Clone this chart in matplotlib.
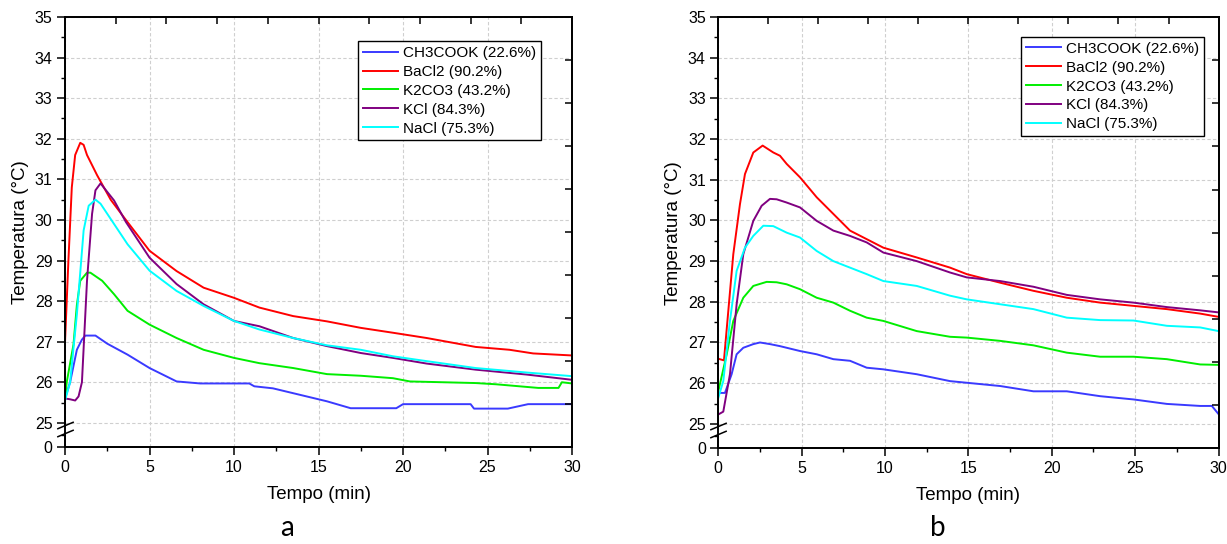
import numpy as np
import matplotlib
matplotlib.use('Agg')
import matplotlib.pyplot as plt
from matplotlib.path import Path

plt.rcParams['font.family'] = ['Liberation Sans', 'DejaVu Sans']

# legend labels and line colours
labels = ['CH3COOK (22.6%)', 'BaCl2 (90.2%)', 'K2CO3 (43.2%)', 'KCl (84.3%)', 'NaCl (75.3%)']
colors = ['#3a3aff', '#ff0000', '#00ee00', '#800080', '#00ffff']

# ---- panel a ----
a_ch3cook_t = [0, 0.3, 0.7, 1.0, 1.2, 1.8, 2.5, 3.7, 5.0, 6.6, 8.0, 10.9, 11.2, 12.3, 14.0, 15.5, 16.9, 19.6, 20.0, 24.0, 24.2, 26.2, 27.4, 30.0]
a_ch3cook = [25.6, 26.0, 26.8, 27.05, 27.15, 27.15, 26.95, 26.68, 26.35, 26.02, 25.97, 25.97, 25.9, 25.85, 25.68, 25.53, 25.36, 25.36, 25.46, 25.46, 25.35, 25.35, 25.46, 25.46]

a_bacl2_t = [0, 0.2, 0.4, 0.6, 0.9, 1.1, 1.3, 1.9, 2.7, 3.6, 5.0, 6.6, 8.2, 10.0, 11.5, 13.5, 15.5, 17.5, 19.4, 21.4, 24.3, 26.3, 27.7, 30.0]
a_bacl2 = [27.0, 29.0, 30.8, 31.6, 31.9, 31.85, 31.6, 31.1, 30.5, 30.0, 29.24, 28.74, 28.33, 28.08, 27.84, 27.63, 27.5, 27.34, 27.22, 27.09, 26.87, 26.8, 26.71, 26.66]

a_k2co3_t = [0, 0.1, 0.5, 0.7, 0.9, 1.3, 1.5, 2.2, 2.9, 3.7, 5.0, 6.6, 8.2, 10.0, 11.5, 13.5, 15.5, 17.5, 19.4, 20.4, 24.3, 25.5, 28.0, 29.2, 29.4, 30.0]
a_k2co3 = [25.6, 26.0, 26.93, 27.9, 28.5, 28.7, 28.7, 28.5, 28.17, 27.76, 27.42, 27.09, 26.8, 26.6, 26.47, 26.35, 26.2, 26.16, 26.1, 26.02, 25.98, 25.95, 25.86, 25.86, 26.0, 25.97]

a_kcl_t = [0, 0.3, 0.6, 0.8, 1.0, 1.3, 1.6, 1.8, 2.1, 2.9, 3.6, 5.0, 6.6, 8.2, 10.0, 11.5, 13.5, 15.5, 17.5, 19.4, 21.4, 24.3, 27.3, 30.0]
a_kcl = [25.6, 25.58, 25.55, 25.65, 26.0, 28.5, 30.15, 30.73, 30.9, 30.48, 29.95, 29.07, 28.42, 27.92, 27.51, 27.38, 27.09, 26.89, 26.72, 26.6, 26.46, 26.31, 26.19, 26.06]

a_nacl_t = [0, 0.3, 0.7, 1.1, 1.4, 1.8, 2.1, 2.9, 3.7, 5.0, 6.6, 8.2, 10.0, 11.5, 13.5, 15.5, 17.5, 19.4, 21.4, 24.3, 27.3, 30.0]
a_nacl = [25.55, 26.0, 27.67, 29.74, 30.35, 30.5, 30.4, 29.9, 29.4, 28.75, 28.25, 27.88, 27.51, 27.3, 27.09, 26.91, 26.8, 26.64, 26.52, 26.35, 26.24, 26.15]

# ---- panel b ----
b_ch3cook_t = [0, 0.4, 0.8, 1.1, 1.5, 2.1, 2.5, 3.1, 3.7, 4.9, 5.9, 6.9, 7.9, 8.9, 9.9, 11.9, 13.9, 14.9, 16.9, 18.9, 20.9, 22.9, 24.9, 26.9, 28.9, 29.6, 30.0]
b_ch3cook = [25.76, 25.76, 26.22, 26.71, 26.87, 26.96, 27.0, 26.96, 26.91, 26.79, 26.71, 26.59, 26.55, 26.38, 26.34, 26.22, 26.05, 26.01, 25.93, 25.8, 25.8, 25.68, 25.6, 25.49, 25.44, 25.44, 25.24]

b_bacl2_t = [0, 0.34, 0.9, 1.3, 1.6, 2.1, 2.66, 3.3, 3.7, 4.1, 4.9, 5.9, 6.9, 7.9, 8.9, 9.9, 11.9, 13.9, 14.9, 16.9, 18.9, 20.9, 22.9, 24.9, 26.9, 28.9, 30.0]
b_bacl2 = [26.6, 26.56, 29.17, 30.4, 31.14, 31.67, 31.84, 31.67, 31.59, 31.39, 31.06, 30.57, 30.16, 29.75, 29.54, 29.33, 29.09, 28.84, 28.68, 28.47, 28.27, 28.1, 27.98, 27.9, 27.82, 27.71, 27.63]

b_k2co3_t = [0, 0.5, 0.9, 1.5, 2.1, 2.9, 3.5, 4.1, 4.9, 5.9, 6.9, 7.9, 8.9, 9.9, 11.9, 13.9, 14.9, 16.9, 18.9, 20.9, 22.9, 24.9, 26.9, 28.9, 30.0]
b_k2co3 = [25.8, 26.7, 27.53, 28.1, 28.39, 28.49, 28.48, 28.43, 28.31, 28.1, 27.98, 27.78, 27.61, 27.53, 27.28, 27.14, 27.12, 27.04, 26.93, 26.75, 26.65, 26.65, 26.59, 26.46, 26.45]

b_kcl_t = [0, 0.3, 0.7, 1.1, 1.5, 2.1, 2.6, 3.1, 3.5, 4.1, 4.9, 5.9, 6.9, 7.9, 8.9, 9.9, 11.9, 13.9, 14.9, 16.9, 18.9, 20.9, 22.9, 24.9, 26.9, 28.9, 30.0]
b_kcl = [25.23, 25.3, 26.22, 27.94, 29.17, 29.99, 30.36, 30.53, 30.52, 30.44, 30.32, 29.99, 29.75, 29.62, 29.46, 29.21, 29.0, 28.72, 28.6, 28.51, 28.37, 28.17, 28.06, 27.98, 27.87, 27.79, 27.74]

b_nacl_t = [0, 0.3, 0.7, 1.1, 1.6, 2.1, 2.7, 3.3, 4.1, 4.9, 5.9, 6.9, 7.9, 8.9, 9.9, 11.9, 13.9, 14.9, 16.9, 18.9, 20.9, 22.9, 24.9, 26.9, 28.9, 30.0]
b_nacl = [25.64, 26.05, 27.53, 28.76, 29.33, 29.62, 29.87, 29.86, 29.7, 29.58, 29.25, 29.0, 28.84, 28.68, 28.51, 28.39, 28.15, 28.06, 27.94, 27.82, 27.61, 27.55, 27.54, 27.41, 27.37, 27.28]

panel_a = [(a_ch3cook_t, a_ch3cook), (a_bacl2_t, a_bacl2), (a_k2co3_t, a_k2co3), (a_kcl_t, a_kcl), (a_nacl_t, a_nacl)]
panel_b = [(b_ch3cook_t, b_ch3cook), (b_bacl2_t, b_bacl2), (b_k2co3_t, b_k2co3), (b_kcl_t, b_kcl), (b_nacl_t, b_nacl)]

y_ticks = [0, 25, 26, 27, 28, 29, 30, 31, 32, 33, 34, 35]
x_ticks = [0, 5, 10, 15, 20, 25, 30]

# broken y axis: 0..25 squeezed into a small strip under 25
GAP = 0.6


def fwd(y):
    y = np.asarray(y, dtype=float)
    return np.where(y >= 25, y - 25 + GAP, y * GAP / 25)


def inv(u):
    u = np.asarray(u, dtype=float)
    return np.where(u >= GAP, u + 25 - GAP, u * 25 / GAP)


# slanted line marker for the break sign
slash = Path([(-1, -0.42), (1, 0.42)], [Path.MOVETO, Path.LINETO])


def draw_panel(ax, data, legend_x, legend_y):
    for (t, v), c, lab in zip(data, colors, labels):
        ax.plot(t, v, color=c, lw=1.4, label=lab)

    ax.set_yscale('function', functions=(fwd, inv))
    ax.set_xlim(0, 30)
    ax.set_ylim(0, 35)
    ax.set_xticks(x_ticks)
    ax.set_xticks(np.arange(2.5, 30, 5), minor=True)
    ax.set_yticks(y_ticks)
    ax.set_yticks([12.5] + list(np.arange(25.5, 35, 1.0)), minor=True)
    ax.tick_params(which='major', direction='out', length=5.5, width=1.1, labelsize=11.5)
    ax.tick_params(which='minor', direction='out', length=3, width=1.0)
    ax.grid(True, which='major', color='#cfcfcf', linestyle=(0, (3, 2)), lw=0.8)
    for s in ax.spines.values():
        s.set_linewidth(1.1)

    ax.set_xlabel('Tempo (min)', fontsize=13.5, labelpad=8)
    ax.set_ylabel('Temperatura (°C)', fontsize=13.5, labelpad=4)

    # top and right ticks (inside, no labels)
    ax_t = ax.twiny()
    ax_t.set_xlim(0, 1)
    ax_t.set_xticks(np.arange(0.1, 0.95, 0.1))
    ax_t.tick_params(direction='in', length=5, width=1.1, labeltop=False)
    ax_r = ax.twinx()
    ax_r.set_ylim(0, 1)
    ax_r.set_yticks(np.arange(0.1, 0.95, 0.1))
    ax_r.tick_params(direction='in', length=5, width=1.1, labelright=False)
    for a2 in (ax_t, ax_r):
        for s in a2.spines.values():
            s.set_linewidth(1.1)

    # axis break sign on the left spine
    tr = ax.get_yaxis_transform()
    ax.plot([0, 0], [22, 16], color='white', lw=2.5, transform=tr, clip_on=False, zorder=5)
    ax.plot([0, 0], [23, 15], ls='none', marker=slash, markersize=12, mew=1.1,
            mec='black', transform=tr, clip_on=False, zorder=6)

    leg = ax.legend(loc='upper left', bbox_to_anchor=(legend_x, legend_y), borderaxespad=0,
                    fontsize=11, fancybox=False, framealpha=1, edgecolor='black',
                    handlelength=2.3, handletextpad=0.3, labelspacing=0.32, borderpad=0.32)
    leg.get_frame().set_linewidth(1.0)


fig = plt.figure(figsize=(12.27, 5.44), dpi=100)
ax1 = fig.add_axes([0.053, 0.178, 0.4132, 0.7907])
ax2 = fig.add_axes([0.5854, 0.176, 0.4077, 0.7927])

draw_panel(ax1, panel_a, 0.578, 0.944)
draw_panel(ax2, panel_b, 0.606, 0.954)

fig.text(287 / 1227, 1 - 528 / 544, 'a', fontsize=20, family=['Lato', 'DejaVu Sans'], ha='center', va='center')
fig.text(938 / 1227, 1 - 528 / 544, 'b', fontsize=20, family=['Lato', 'DejaVu Sans'], ha='center', va='center')

fig.savefig('out.png', dpi=100)
